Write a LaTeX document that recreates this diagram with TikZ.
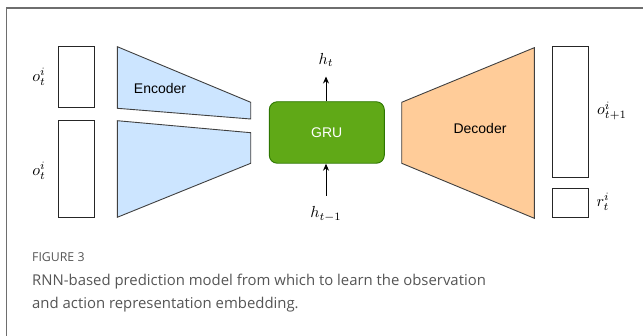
\documentclass[tikz,border=0pt]{standalone}
\usepackage{fontspec}
\setsansfont{Liberation Sans}
\newfontfamily\capfont{Open Sans}
\usetikzlibrary{arrows.meta}
\definecolor{encfill}{HTML}{CCE5FF}
\definecolor{decfill}{HTML}{FFCC99}
\definecolor{grufill}{HTML}{60A917}
\definecolor{grudraw}{HTML}{2D7600}
\definecolor{framec}{HTML}{6E6E6E}
\definecolor{capc}{HTML}{555555}
\tikzset{
  vecbox/.style={draw=black!85, line width=0.9pt, fill=white},
  trap/.style={draw=black!75, line width=0.9pt},
  mlabel/.style={font=\normalsize, scale=1.6, inner sep=0pt},
  blocktext/.style={font=\sffamily\fontsize{14}{16}\selectfont, inner sep=0pt},
  arr/.style={-{Stealth[length=7pt,width=6pt]}, line width=1pt},
  captext/.style={anchor=base west, inner sep=0pt, text=capc},
}
\begin{document}
\begin{tikzpicture}[x=1pt,y=-1pt]
\useasboundingbox (0,0) rectangle (643,336);
% frame
\draw[framec, line width=1.4pt] (6.5,336) -- (6.5,8) -- (643,8);
% input boxes
\node[vecbox, minimum width=36pt, minimum height=61pt, inner sep=0pt] (in1) at (76,77.3) {};
\node[vecbox, minimum width=36pt, minimum height=97pt, inner sep=0pt] (in2) at (76,168.7) {};
\node[mlabel] (lo1) at (39,77) {$o_t^i$};
\node[mlabel] (lo2) at (39,171) {$o_t^i$};
% encoder
\draw[trap, fill=encfill] (117.3,46.7) -- (250.7,102.3) -- (250.7,119) -- (117.3,108.3) -- cycle;
\draw[trap, fill=encfill] (117.3,120.7) -- (250.7,132.7) -- (250.7,163.3) -- (117.3,217.3) -- cycle;
\node[blocktext] (enc) at (160,88) {Encoder};
% GRU
\node[draw=grudraw, fill=grufill, line width=0.9pt, rounded corners=8pt,
      minimum width=115pt, minimum height=61.5pt, inner sep=0pt,
      text=white, font=\sffamily\fontsize{14}{16}\selectfont] (gru) at (326.8,132.5) {GRU};
\node[mlabel] (ht) at (326,60) {$h_t$};
\node[mlabel] (htm) at (326,214) {$h_{t-1}$};
\coordinate (topend) at (326,76.5);
\coordinate (botstart) at (326,196);
\draw[arr] (gru.north -| topend) -- (topend);
\draw[arr] (botstart) -- (gru.south -| botstart);
% decoder
\draw[trap, fill=decfill] (401.7,102.3) -- (534.3,47.7) -- (534.3,218.3) -- (401.7,163.3) -- cycle;
\node[blocktext] (dec) at (480,128) {Decoder};
% output boxes
\node[vecbox, minimum width=36pt, minimum height=130.6pt, inner sep=0pt] (out1) at (570.7,112) {};
\node[vecbox, minimum width=36pt, minimum height=28.7pt, inner sep=0pt] (out2) at (570.7,203.3) {};
\node[mlabel] (lo3) at (612,111) {$o_{t+1}^i$};
\node[mlabel] (lr) at (603,202) {$r_t^i$};
% caption
\node[captext, font=\capfont\fontsize{12.3}{15}\selectfont] (fig) at (32,262) {FIGURE 3};
\node[captext, font=\capfont\fontsize{14.9}{18}\selectfont] (cap1) at (32,286)
  {RNN-based prediction model from which to learn the observation};
\node[captext, font=\capfont\fontsize{14.9}{18}\selectfont] (cap2) at (32,309)
  {and action representation embedding.};
\end{tikzpicture}
\end{document}
